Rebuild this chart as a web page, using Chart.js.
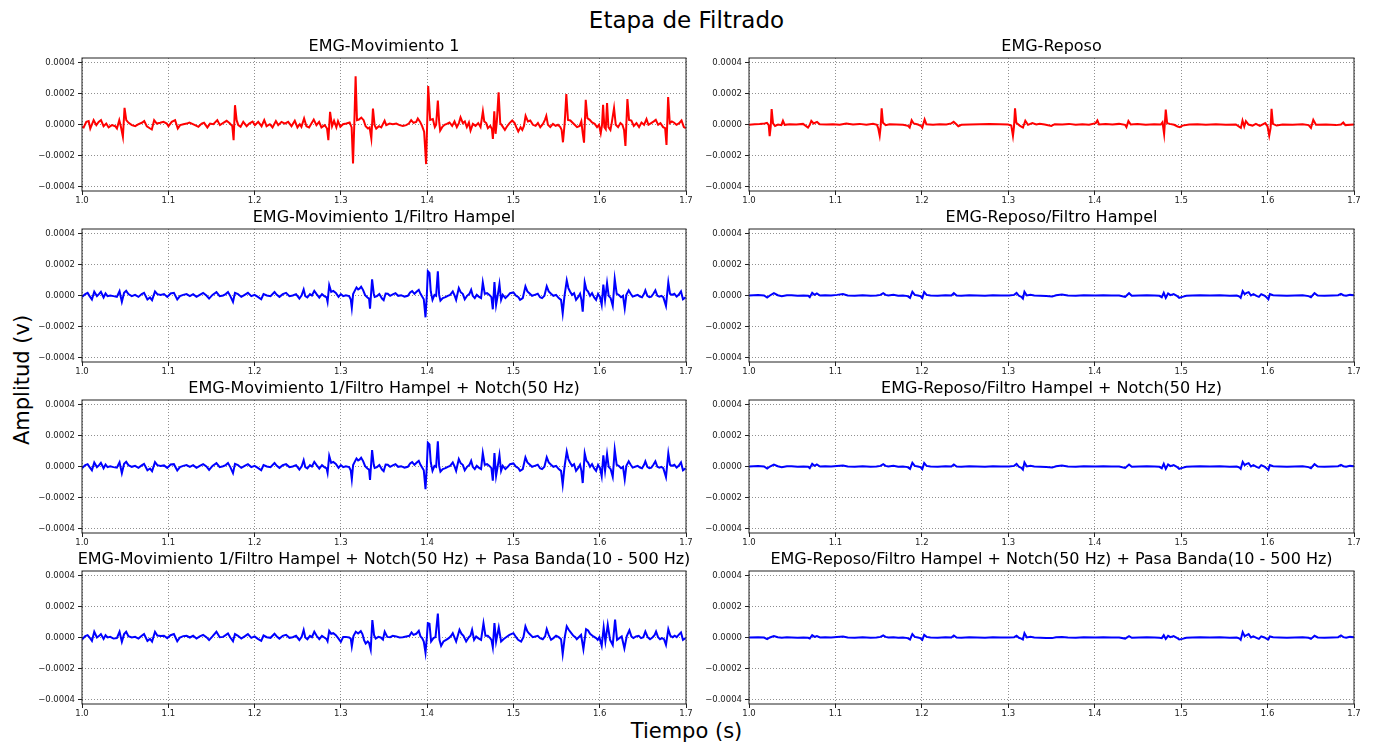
<!DOCTYPE html>
<html>
<head>
<meta charset="utf-8">
<title>Etapa de Filtrado</title>
<script src="https://cdn.jsdelivr.net/npm/chart.js@4"></script>
<style>
  html, body { margin: 0; padding: 0; background: #fff; }
  body { width: 1373px; height: 745px; position: relative; overflow: hidden; font-family: "DejaVu Sans", sans-serif; color: #000; }
  canvas { position: absolute; }
  .lbl { position: absolute; white-space: nowrap; line-height: 1; }
</style>
</head>
<body>
<div class="lbl" style="left:0;width:1373px;top:9px;text-align:center;font-size:23px;">Etapa de Filtrado</div>
<div class="lbl" style="left:0;width:1373px;top:721px;text-align:center;font-size:21px;">Tiempo (s)</div>
<div class="lbl" style="left:22px;top:380px;font-size:21px;transform:translate(-50%,-50%) rotate(-90deg);">Amplitud (v)</div>

<canvas id="c0"></canvas><canvas id="c1"></canvas>
<canvas id="c2"></canvas><canvas id="c3"></canvas>
<canvas id="c4"></canvas><canvas id="c5"></canvas>
<canvas id="c6"></canvas><canvas id="c7"></canvas>

<script>
// axis ticks
const TIME_TICKS = [1.0, 1.1, 1.2, 1.3, 1.4, 1.5, 1.6, 1.7];
const AMP_TICKS = [-0.0004, -0.0002, 0, 0.0002, 0.0004];

// signals: [tiempo (s), amplitud in units of 1e-5 V]
const movRaw = [
  [1.0000,-1.5],[1.0019,-1.9],[1.0050,1.7],[1.0077,2.2],[1.0096,-2.6],[1.0135,2.8],[1.0166,-0.4],[1.0193,1.7],
  [1.0220,2.8],[1.0250,-1.1],[1.0281,0.6],[1.0308,-1.9],[1.0347,-0.4],[1.0385,-1.1],[1.0405,-2.6],[1.0432,2.8],
  [1.0451,-1.5],[1.0474,-8],[1.0493,10.8],[1.0513,2.8],[1.0540,1.1],[1.0578,-0.4],[1.0617,-1.1],[1.0655,0.2],
  [1.0694,1.1],[1.0721,2.2],[1.0751,-1.1],[1.0790,-2.6],[1.0809,-3.2],[1.0836,2.8],[1.0867,0.6],[1.0906,1.1],
  [1.0944,1.7],[1.0983,0.6],[1.1002,-1.1],[1.1040,1.7],[1.1079,2.8],[1.1110,-2.6],[1.1137,-0.4],[1.1175,0.2],
  [1.1214,0.6],[1.1245,1.3],[1.1272,0.6],[1.1310,-0.4],[1.1349,-1.5],[1.1387,0.6],[1.1414,1.1],[1.1453,-1.9],
  [1.1484,0.6],[1.1522,0.2],[1.1568,2.8],[1.1599,-0.4],[1.1638,1.1],[1.1676,2.4],[1.1715,0.6],[1.1742,-1.1],
  [1.1757,-10.1],[1.1773,12.5],[1.1792,2.8],[1.1811,-0.4],[1.1838,-1.5],[1.1869,1.7],[1.1908,-1.1],[1.1938,0.6],
  [1.1977,1.9],[1.2004,-0.4],[1.2042,1.7],[1.2081,-1.1],[1.2112,2.8],[1.2139,-1.1],[1.2177,0.2],[1.2208,-1.9],
  [1.2247,2.2],[1.2274,-0.4],[1.2312,1.7],[1.2351,0.6],[1.2389,1.7],[1.2428,-1.1],[1.2466,2.4],[1.2497,-1.9],
  [1.2524,0.2],[1.2543,-1.5],[1.2574,3.9],[1.2601,-1.1],[1.2632,-1.9],[1.2659,0.6],[1.2686,3.2],[1.2717,-0.4],
  [1.2748,1.7],[1.2775,-1.9],[1.2813,-0.4],[1.2840,-2.6],[1.2855,-10.1],[1.2875,8.2],[1.2898,-1.1],[1.2921,2.4],
  [1.2948,-1.9],[1.2967,2.2],[1.2994,-1.5],[1.3025,0.2],[1.3064,0.6],[1.3102,1.3],[1.3125,-1.9],[1.3141,-25.2],
  [1.3156,0.6],[1.3171,31.2],[1.3187,2.8],[1.3210,3.2],[1.3237,4.5],[1.3264,2.8],[1.3287,-1.1],[1.3314,-2.6],
  [1.3333,-1.9],[1.3353,-9],[1.3372,10.3],[1.3391,-0.4],[1.3410,-2.6],[1.3441,-1.1],[1.3468,-1.9],[1.3507,2.4],
  [1.3526,-0.4],[1.3565,0.6],[1.3603,0.2],[1.3642,0.6],[1.3680,-0.4],[1.3719,-0.9],[1.3757,-0.4],[1.3788,0.6],
  [1.3815,2.8],[1.3842,1.1],[1.3873,1.7],[1.3892,3.9],[1.3919,1.7],[1.3942,-1.1],[1.3965,-4.7],[1.3988,-25.6],
  [1.4012,24.9],[1.4035,3],[1.4066,3.5],[1.4089,-1.7],[1.4104,-0.2],[1.4124,15.4],[1.4139,2],[1.4151,-3.9],
  [1.4174,-1.7],[1.4201,-0.2],[1.4228,0.4],[1.4259,1.3],[1.4290,-0.9],[1.4317,2],[1.4344,-1.7],[1.4368,0.9],
  [1.4387,4.6],[1.4414,0.9],[1.4437,2],[1.4460,-1.7],[1.4484,1.3],[1.4503,-3.9],[1.4530,0.4],[1.4561,-0.9],
  [1.4592,0.9],[1.4619,-1.7],[1.4646,8.5],[1.4662,2],[1.4685,0.9],[1.4704,-2.4],[1.4731,-0.9],[1.4751,-3],
  [1.4762,-9.3],[1.4778,8.5],[1.4793,-6],[1.4808,2],[1.4828,20.8],[1.4847,0.9],[1.4870,-0.9],[1.4901,-3.5],
  [1.4925,-1.3],[1.4955,0.9],[1.4986,2.6],[1.5014,0.9],[1.5033,-1.7],[1.5056,-4.5],[1.5083,-1.7],[1.5103,-3.5],
  [1.5122,-0.9],[1.5141,5.6],[1.5168,2],[1.5195,2.6],[1.5226,-0.2],[1.5257,-0.9],[1.5284,0.9],[1.5311,-1.7],
  [1.5342,0.4],[1.5365,3],[1.5381,5.6],[1.5400,-0.2],[1.5427,-1.7],[1.5458,0.4],[1.5489,-0.9],[1.5516,-0.2],
  [1.5543,-1.7],[1.5559,-3.5],[1.5574,-11.5],[1.5594,0.9],[1.5613,19.7],[1.5632,3],[1.5660,2.6],[1.5683,1.3],
  [1.5710,-0.2],[1.5737,-1.7],[1.5768,-0.9],[1.5787,2],[1.5803,-5.6],[1.5818,-11.7],[1.5838,16],[1.5857,4.1],
  [1.5884,3],[1.5911,1.3],[1.5942,0.4],[1.5969,-1.7],[1.5992,-0.2],[1.6012,-5.6],[1.6027,-0.2],[1.6039,12.8],
  [1.6054,-1.7],[1.6070,-3],[1.6085,13.8],[1.6101,-1.7],[1.6124,-3.5],[1.6139,0.9],[1.6166,10.6],[1.6186,-0.2],
  [1.6213,-1.7],[1.6240,0.9],[1.6263,-0.2],[1.6282,-3.5],[1.6298,-13.8],[1.6321,16.4],[1.6340,3],[1.6367,2.6],
  [1.6395,-0.9],[1.6426,0.9],[1.6456,-1.7],[1.6484,1.3],[1.6514,-0.2],[1.6542,3.5],[1.6565,-0.2],[1.6596,0.9],
  [1.6627,2],[1.6650,3],[1.6677,-0.2],[1.6704,0.9],[1.6735,-1.7],[1.6758,-2.4],[1.6774,-13.2],[1.6793,17.7],
  [1.6812,0.9],[1.6836,2],[1.6859,1.3],[1.6890,-0.2],[1.6921,0.9],[1.6948,2.6],[1.6975,-1.7],[1.6998,-2.4]
];

const movHampel = [
  [1.0000,-0.9],[1.0038,0.9],[1.0065,1.7],[1.0088,-0.4],[1.0115,-2.6],[1.0142,2.4],[1.0173,-0.4],[1.0196,0.9],
  [1.0219,2.4],[1.0250,-1.3],[1.0273,1.3],[1.0296,-0.4],[1.0327,0],[1.0365,-0.4],[1.0404,-0.9],[1.0435,2.8],
  [1.0462,-4.1],[1.0488,1.7],[1.0512,3],[1.0538,0.9],[1.0577,-0.4],[1.0615,0.4],[1.0654,-0.9],[1.0692,0.9],
  [1.0719,1.7],[1.0758,-2.6],[1.0788,-1.3],[1.0812,-3],[1.0846,2.6],[1.0873,0.9],[1.0912,0.4],[1.0950,0.9],
  [1.0988,-0.9],[1.1027,1.3],[1.1065,1.7],[1.1104,-2.6],[1.1135,-0.4],[1.1173,0.4],[1.1212,0.9],[1.1250,-0.4],
  [1.1288,0.9],[1.1327,-0.9],[1.1365,0.4],[1.1404,1.7],[1.1442,0],[1.1473,-2],[1.1512,0.4],[1.1558,2.2],
  [1.1596,-0.4],[1.1635,0],[1.1665,0.9],[1.1692,2.2],[1.1719,-0.4],[1.1750,-4.1],[1.1773,1.7],[1.1808,0.9],
  [1.1846,-0.9],[1.1885,0.4],[1.1923,1.7],[1.1962,-0.4],[1.2000,0.4],[1.2038,-0.9],[1.2077,-2.4],[1.2104,0.9],
  [1.2142,0],[1.2185,-0.4],[1.2231,2.2],[1.2258,0.4],[1.2288,-0.9],[1.2327,0.9],[1.2365,1.7],[1.2404,-0.4],
  [1.2442,0],[1.2481,0.9],[1.2519,-2],[1.2546,0.2],[1.2569,3.9],[1.2588,-0.4],[1.2612,-1.3],[1.2642,0.9],
  [1.2665,0],[1.2692,3],[1.2719,0.9],[1.2750,-1.3],[1.2781,0.9],[1.2808,-0.4],[1.2835,-1.3],[1.2846,-4.1],
  [1.2865,6.7],[1.2888,2.4],[1.2912,3],[1.2942,1.7],[1.2973,-0.9],[1.3000,0.9],[1.3027,-0.4],[1.3058,0.2],
  [1.3096,-0.4],[1.3115,-2.6],[1.3127,-8],[1.3142,0.9],[1.3165,3.5],[1.3181,5.2],[1.3200,3.9],[1.3219,4.6],
  [1.3235,5.7],[1.3258,3.5],[1.3281,0.2],[1.3308,-1.3],[1.3327,-2],[1.3338,-8.5],[1.3362,10.4],[1.3381,1.3],
  [1.3392,-0.9],[1.3419,-0.4],[1.3446,0.9],[1.3477,-2],[1.3496,-3],[1.3519,1.3],[1.3544,1.1],[1.3571,-0.2],
  [1.3602,0.7],[1.3633,1.5],[1.3664,-0.2],[1.3699,0.2],[1.3737,-0.7],[1.3776,-0.2],[1.3803,2],[1.3826,2.8],
  [1.3853,1.1],[1.3880,2.6],[1.3903,3.7],[1.3923,1.1],[1.3942,-0.7],[1.3961,-2.4],[1.3981,-14.1],[1.3996,-0.2],
  [1.4008,15.7],[1.4027,14.6],[1.4042,2.6],[1.4062,-2.8],[1.4085,0.4],[1.4104,-0.2],[1.4124,15.7],[1.4139,0.4],
  [1.4154,-3.3],[1.4181,-1.7],[1.4212,-1.1],[1.4239,-0.2],[1.4266,0.4],[1.4297,2.6],[1.4320,-0.2],[1.4336,-2.8],
  [1.4367,4.8],[1.4390,2],[1.4413,1.1],[1.4436,-2.4],[1.4463,-0.2],[1.4490,1.1],[1.4510,3.7],[1.4529,-0.2],
  [1.4552,-1.7],[1.4575,0.4],[1.4598,-0.7],[1.4625,-1.7],[1.4645,8.5],[1.4668,1.1],[1.4695,1.5],[1.4722,0.4],
  [1.4745,-1.1],[1.4761,-8.9],[1.4780,8.7],[1.4799,-6.1],[1.4819,0.4],[1.4838,7.4],[1.4857,-2.8],[1.4876,0.4],
  [1.4907,-1.7],[1.4934,-0.2],[1.4961,1.5],[1.5000,2],[1.5031,-0.2],[1.5058,-1.1],[1.5077,-2.8],[1.5108,-1.7],
  [1.5139,5.9],[1.5162,2.6],[1.5185,1.5],[1.5216,-0.2],[1.5247,0.4],[1.5282,1.1],[1.5309,-1.1],[1.5332,-1.7],
  [1.5359,-0.2],[1.5386,5.9],[1.5409,2.6],[1.5436,1.1],[1.5463,-0.2],[1.5494,0.4],[1.5525,-1.7],[1.5552,-2.8],
  [1.5571,-11.5],[1.5591,-0.7],[1.5618,9.8],[1.5637,4.8],[1.5656,2.6],[1.5680,0.4],[1.5703,1.5],[1.5726,-2.8],
  [1.5749,-1.1],[1.5772,1.1],[1.5788,-2.8],[1.5803,-10.4],[1.5826,8.5],[1.5846,3.7],[1.5865,2.6],[1.5888,-0.2],
  [1.5911,1.5],[1.5934,-1.1],[1.5958,-2.8],[1.5981,1.1],[1.6004,-1.1],[1.6023,-6.1],[1.6042,7],[1.6062,-2.8],
  [1.6085,8],[1.6104,-0.2],[1.6127,-1.7],[1.6151,-6.7],[1.6174,10.7],[1.6197,1.1],[1.6220,0.4],[1.6247,-1.1],
  [1.6270,-0.2],[1.6290,-8.3],[1.6309,0.4],[1.6336,3.3],[1.6359,1.1],[1.6382,-0.7],[1.6409,-0.2],[1.6440,0.4],
  [1.6467,-0.7],[1.6490,-1.1],[1.6514,1.1],[1.6529,3.3],[1.6552,-0.2],[1.6575,-1.1],[1.6598,-0.7],[1.6622,1.1],
  [1.6645,3.3],[1.6668,-0.2],[1.6691,-0.7],[1.6714,-0.2],[1.6737,-1.1],[1.6768,-6.7],[1.6795,8.5],[1.6815,1.1],
  [1.6838,0.4],[1.6865,1.1],[1.6892,-0.7],[1.6915,0.4],[1.6942,2.6],[1.6965,-2.4],[1.6996,-1.1]
];

const movNotch = [
  [1.0000,-1.1],[1.0038,0.9],[1.0065,1.5],[1.0088,-0.4],[1.0115,-2.4],[1.0142,2.6],[1.0173,-0.4],[1.0196,0.7],
  [1.0219,2.4],[1.0250,-1.1],[1.0273,1.3],[1.0296,-0.4],[1.0327,0.2],[1.0365,-0.4],[1.0404,-0.7],[1.0435,2.8],
  [1.0462,-4.3],[1.0488,1.7],[1.0512,3],[1.0538,0.9],[1.0577,-0.2],[1.0615,0.4],[1.0654,-0.9],[1.0692,0.7],
  [1.0719,1.7],[1.0758,-2.4],[1.0788,-1.3],[1.0812,-3],[1.0846,2.8],[1.0873,0.9],[1.0912,0.4],[1.0950,0.7],
  [1.0988,-0.9],[1.1027,1.3],[1.1065,1.5],[1.1104,-2.6],[1.1135,-0.4],[1.1173,0.4],[1.1212,0.9],[1.1250,-0.2],
  [1.1288,0.9],[1.1327,-0.9],[1.1365,0.4],[1.1404,1.5],[1.1442,0],[1.1473,-2.2],[1.1512,0.4],[1.1558,2.2],
  [1.1596,-0.4],[1.1635,0.2],[1.1665,0.9],[1.1692,2.2],[1.1719,-0.4],[1.1750,-4.3],[1.1773,1.7],[1.1808,0.9],
  [1.1846,-0.9],[1.1885,0.4],[1.1923,1.5],[1.1962,-0.4],[1.2000,0.4],[1.2038,-0.9],[1.2077,-2.4],[1.2104,0.9],
  [1.2142,0],[1.2185,-0.4],[1.2231,2.2],[1.2258,0.4],[1.2288,-0.9],[1.2327,0.9],[1.2365,1.5],[1.2404,-0.4],
  [1.2442,0],[1.2481,0.9],[1.2519,-2],[1.2546,0.2],[1.2569,4.1],[1.2588,-0.4],[1.2612,-1.3],[1.2642,0.9],
  [1.2665,0],[1.2692,3],[1.2719,0.9],[1.2750,-1.3],[1.2781,0.9],[1.2808,-0.4],[1.2835,-1.3],[1.2846,-4.1],
  [1.2865,6.9],[1.2888,2.4],[1.2912,3],[1.2942,1.7],[1.2973,-0.9],[1.3000,0.9],[1.3027,-0.4],[1.3058,0.2],
  [1.3096,-0.4],[1.3115,-2.6],[1.3127,-8.2],[1.3142,0.9],[1.3165,3.5],[1.3181,5.2],[1.3200,3.9],[1.3219,4.6],
  [1.3235,5.7],[1.3258,3.5],[1.3281,0.2],[1.3308,-1.3],[1.3327,-2],[1.3338,-8.7],[1.3362,10.6],[1.3381,1.3],
  [1.3392,-0.9],[1.3419,-0.4],[1.3446,0.9],[1.3477,-2],[1.3496,-3],[1.3519,1.3],[1.3544,1.1],[1.3571,-0.2],
  [1.3602,0.7],[1.3633,1.5],[1.3664,-0.2],[1.3699,0.2],[1.3737,-0.7],[1.3776,-0.2],[1.3803,2],[1.3826,2.8],
  [1.3853,1.1],[1.3880,2.6],[1.3903,3.7],[1.3923,1.1],[1.3942,-0.7],[1.3961,-2.4],[1.3981,-14.6],[1.3996,-0.2],
  [1.4008,15.4],[1.4027,14.3],[1.4042,2.6],[1.4062,-2.8],[1.4085,0.4],[1.4104,-0.2],[1.4124,16.3],[1.4139,0.4],
  [1.4154,-3.3],[1.4181,-1.7],[1.4212,-1.1],[1.4239,-0.2],[1.4266,0.4],[1.4297,2.6],[1.4320,-0.2],[1.4336,-2.8],
  [1.4367,4.8],[1.4390,2],[1.4413,1.1],[1.4436,-2.4],[1.4463,-0.2],[1.4490,1.1],[1.4510,3.7],[1.4529,-0.2],
  [1.4552,-1.7],[1.4575,0.4],[1.4598,-0.7],[1.4625,-1.7],[1.4645,8.7],[1.4668,1.1],[1.4695,1.5],[1.4722,0.4],
  [1.4745,-1.1],[1.4761,-9.1],[1.4780,8.7],[1.4799,-6.1],[1.4819,0.4],[1.4838,7.4],[1.4857,-2.8],[1.4876,0.4],
  [1.4907,-1.7],[1.4934,-0.2],[1.4961,1.5],[1.5000,2],[1.5031,-0.2],[1.5058,-1.1],[1.5077,-2.8],[1.5108,-1.7],
  [1.5139,5.9],[1.5162,2.6],[1.5185,1.5],[1.5216,-0.2],[1.5247,0.4],[1.5282,1.1],[1.5309,-1.1],[1.5332,-1.7],
  [1.5359,-0.2],[1.5386,5.9],[1.5409,2.6],[1.5436,1.1],[1.5463,-0.2],[1.5494,0.4],[1.5525,-1.7],[1.5552,-2.8],
  [1.5571,-11.7],[1.5591,-0.7],[1.5618,9.6],[1.5637,4.8],[1.5656,2.6],[1.5680,0.4],[1.5703,1.5],[1.5726,-2.8],
  [1.5749,-1.1],[1.5772,1.1],[1.5788,-2.8],[1.5803,-10.7],[1.5826,8.5],[1.5846,3.7],[1.5865,2.6],[1.5888,-0.2],
  [1.5911,1.5],[1.5934,-1.1],[1.5958,-2.8],[1.5981,1.1],[1.6004,-1.1],[1.6023,-6.3],[1.6042,7.2],[1.6062,-2.8],
  [1.6085,8],[1.6104,-0.2],[1.6127,-1.7],[1.6151,-6.7],[1.6174,10.9],[1.6197,1.1],[1.6220,0.4],[1.6247,-1.1],
  [1.6270,-0.2],[1.6290,-8.3],[1.6309,0.4],[1.6336,3.3],[1.6359,1.1],[1.6382,-0.7],[1.6409,-0.2],[1.6440,0.4],
  [1.6467,-0.7],[1.6490,-1.1],[1.6514,1.1],[1.6529,3.3],[1.6552,-0.2],[1.6575,-1.1],[1.6598,-0.7],[1.6622,1.1],
  [1.6645,3.3],[1.6668,-0.2],[1.6691,-0.7],[1.6714,-0.2],[1.6737,-1.1],[1.6768,-6.9],[1.6795,8.5],[1.6815,1.1],
  [1.6838,0.4],[1.6865,1.1],[1.6892,-0.7],[1.6915,0.4],[1.6942,2.6],[1.6965,-2.4],[1.6996,-1.1]
];

const movBand = [
  [1.0000,-1.3],[1.0038,0.9],[1.0065,1.5],[1.0088,0],[1.0115,-2.2],[1.0142,3.7],[1.0173,0],[1.0196,0.9],
  [1.0219,2.2],[1.0250,-0.9],[1.0273,1.5],[1.0296,0],[1.0327,0.4],[1.0365,-0.7],[1.0404,-0.4],[1.0435,3.7],
  [1.0462,-2.8],[1.0488,2.2],[1.0512,3.7],[1.0538,0.9],[1.0577,0],[1.0615,0.4],[1.0654,-0.7],[1.0692,1.1],
  [1.0719,2.2],[1.0758,-2.2],[1.0788,-0.9],[1.0812,-2.6],[1.0846,3.7],[1.0873,1.3],[1.0912,0.9],[1.0950,1.1],
  [1.0988,-0.4],[1.1027,1.5],[1.1065,2.2],[1.1104,-2.4],[1.1135,0],[1.1173,0.9],[1.1212,1.1],[1.1250,0],
  [1.1288,1.1],[1.1327,-0.7],[1.1365,0.7],[1.1404,1.7],[1.1442,0.2],[1.1473,-1.7],[1.1512,0.7],[1.1558,3.7],
  [1.1596,0.2],[1.1635,0.4],[1.1665,1.5],[1.1692,2.6],[1.1719,0],[1.1750,-2.4],[1.1773,2.2],[1.1808,1.1],
  [1.1846,-0.7],[1.1885,0.7],[1.1923,2.2],[1.1962,-0.2],[1.2000,0.7],[1.2038,-0.9],[1.2077,-2.2],[1.2104,1.3],
  [1.2142,0.2],[1.2185,-0.2],[1.2231,2.4],[1.2258,0.7],[1.2288,-0.7],[1.2327,1.1],[1.2365,1.7],[1.2404,-0.2],
  [1.2442,0.2],[1.2481,1.1],[1.2519,-1.7],[1.2546,0.4],[1.2569,4.8],[1.2588,0],[1.2612,-1.1],[1.2642,1.1],
  [1.2665,0.2],[1.2692,3.7],[1.2719,1.1],[1.2750,-1.1],[1.2781,1.1],[1.2808,0],[1.2835,-1.1],[1.2846,-2.4],
  [1.2865,4.3],[1.2888,2.4],[1.2912,2.8],[1.2942,1.5],[1.2973,-0.7],[1.3000,-2.8],[1.3027,0.4],[1.3058,0.4],
  [1.3096,0],[1.3115,-0.7],[1.3127,-5.7],[1.3146,0.9],[1.3173,3.7],[1.3200,2.6],[1.3231,4.1],[1.3250,2.2],
  [1.3269,-1.7],[1.3288,-3.9],[1.3312,-2.6],[1.3327,-3.5],[1.3346,-7.8],[1.3365,11.3],[1.3385,1.5],[1.3404,-0.7],
  [1.3435,0.4],[1.3462,0],[1.3488,-1.3],[1.3508,3.7],[1.3538,0.4],[1.3571,0.2],[1.3602,1.1],[1.3641,0.7],
  [1.3680,0],[1.3718,0.2],[1.3757,0.7],[1.3795,1.1],[1.3819,3.3],[1.3842,1.7],[1.3873,2.4],[1.3903,4.3],
  [1.3923,0.7],[1.3942,-0.4],[1.3961,-2.6],[1.3981,-9.8],[1.3996,-0.4],[1.4008,9.3],[1.4027,8.9],[1.4046,-2.6],
  [1.4073,-0.4],[1.4097,0.2],[1.4124,15.4],[1.4143,-1.5],[1.4162,-5.4],[1.4189,-2.6],[1.4220,-1.5],[1.4251,-0.4],
  [1.4278,1.1],[1.4297,2.8],[1.4320,-0.4],[1.4336,-2.6],[1.4375,5],[1.4398,2.4],[1.4421,1.1],[1.4452,-2.6],
  [1.4483,0.2],[1.4502,1.1],[1.4521,5],[1.4544,-1.5],[1.4568,0.7],[1.4591,-0.4],[1.4625,-1.5],[1.4653,9.3],
  [1.4676,1.1],[1.4703,1.1],[1.4730,-0.4],[1.4745,-1.5],[1.4761,-6.3],[1.4780,9.3],[1.4799,-2.6],[1.4830,6.5],
  [1.4857,-2.6],[1.4884,-1.1],[1.4915,0.2],[1.4954,1.7],[1.5000,2.8],[1.5031,0.2],[1.5054,-1.5],[1.5089,-2.6],
  [1.5116,0.2],[1.5139,7.2],[1.5162,3.9],[1.5185,2.4],[1.5224,0.2],[1.5255,0.7],[1.5282,1.1],[1.5309,-0.4],
  [1.5340,-1.1],[1.5367,0.7],[1.5386,5.4],[1.5409,1.7],[1.5436,-1.5],[1.5463,-0.4],[1.5494,1.1],[1.5525,0.2],
  [1.5552,-1.1],[1.5571,-10.7],[1.5595,0.2],[1.5618,7.2],[1.5641,5],[1.5664,3.3],[1.5695,1.1],[1.5718,0.2],
  [1.5734,-1.1],[1.5757,0.2],[1.5784,1.7],[1.5811,-7.6],[1.5842,5.4],[1.5865,4.6],[1.5888,2.4],[1.5927,0.7],
  [1.5958,-0.4],[1.5977,-1.5],[1.5996,0.2],[1.6023,-5.4],[1.6046,6.5],[1.6066,-2.6],[1.6093,8.3],[1.6120,-1.5],
  [1.6151,-4.8],[1.6178,11.5],[1.6201,-1.5],[1.6228,-0.4],[1.6255,0.7],[1.6286,-7],[1.6313,0.7],[1.6344,4.6],
  [1.6367,0.7],[1.6390,-0.4],[1.6421,0.7],[1.6452,1.1],[1.6479,-0.4],[1.6506,0.2],[1.6529,3.9],[1.6556,0.2],
  [1.6583,-1.1],[1.6614,0.2],[1.6637,1.7],[1.6653,3.9],[1.6676,0.2],[1.6699,-1.1],[1.6722,-0.4],[1.6745,-1.1],
  [1.6768,-4.8],[1.6795,5.4],[1.6819,1.1],[1.6846,0.2],[1.6869,1.1],[1.6892,0.2],[1.6915,1.7],[1.6942,3.3],
  [1.6965,-1.5],[1.6996,-0.4]
];

const repRaw = [
  [1.0000,-0.2],[1.0066,0.2],[1.0123,0.4],[1.0181,0.7],[1.0208,1.1],[1.0228,-0.4],[1.0239,-7.6],[1.0251,-1.5],
  [1.0262,10],[1.0278,0.7],[1.0301,-0.9],[1.0336,0],[1.0374,-0.4],[1.0393,2.4],[1.0413,-0.2],[1.0470,0.2],
  [1.0548,0],[1.0625,0.4],[1.0683,-2],[1.0702,-0.4],[1.0721,2.4],[1.0748,0.7],[1.0787,1.7],[1.0818,0.2],
  [1.0895,0],[1.0972,0.2],[1.1049,-0.2],[1.1126,0.7],[1.1203,0],[1.1280,0.4],[1.1358,-0.2],[1.1435,0.4],
  [1.1481,-0.2],[1.1496,-2.6],[1.1512,-7.2],[1.1523,-1.5],[1.1535,10.4],[1.1550,1.1],[1.1581,-0.4],[1.1627,0.2],
  [1.1705,0],[1.1782,-0.2],[1.1840,-0.9],[1.1859,-2],[1.1882,2.8],[1.1905,0.7],[1.1955,0],[1.1994,-1.1],
  [1.2005,-2],[1.2032,3.3],[1.2052,0.2],[1.2129,-0.2],[1.2206,0.2],[1.2283,0],[1.2341,0.7],[1.2368,1.7],
  [1.2399,0.2],[1.2422,-1.1],[1.2457,-0.2],[1.2553,0],[1.2669,0.2],[1.2784,0.4],[1.2900,0.2],[1.2997,0],
  [1.3035,-0.7],[1.3054,-7.4],[1.3066,-1.5],[1.3078,10.4],[1.3093,1.1],[1.3132,-0.7],[1.3170,-2],[1.3197,2.4],
  [1.3228,-0.2],[1.3278,0.9],[1.3324,0],[1.3363,0.4],[1.3421,0],[1.3498,-0.9],[1.3537,0.2],[1.3625,0],
  [1.3703,0.4],[1.3780,-0.2],[1.3857,0.2],[1.3934,-0.2],[1.4012,0.9],[1.4031,2.6],[1.4050,0],[1.4127,0.4],
  [1.4205,0],[1.4282,0.4],[1.4351,-0.2],[1.4367,-1.7],[1.4390,2.2],[1.4417,0],[1.4494,0.4],[1.4591,-0.2],
  [1.4687,0.2],[1.4764,0],[1.4784,1.5],[1.4803,-6.1],[1.4822,9.6],[1.4838,0.9],[1.4869,0.4],[1.4919,-0.2],
  [1.4958,-1.3],[1.4985,-1.7],[1.5015,-0.7],[1.5093,0],[1.5189,0.2],[1.5286,-0.2],[1.5402,0.2],[1.5517,-0.2],
  [1.5633,0],[1.5691,-2.2],[1.5710,2.6],[1.5730,-1.3],[1.5749,2.2],[1.5780,0],[1.5826,-0.7],[1.5865,0.4],
  [1.5911,-0.9],[1.5973,0.9],[1.6000,-1.3],[1.6019,-7.2],[1.6035,-2.2],[1.6046,10.2],[1.6062,0.4],[1.6104,-0.7],
  [1.6174,0],[1.6290,-0.2],[1.6405,0.2],[1.6475,-0.4],[1.6502,-2.2],[1.6529,3],[1.6560,-0.2],[1.6676,0],
  [1.6792,-0.4],[1.6849,0],[1.6876,1.3],[1.6900,-0.4],[1.7000,0]
];

const repHampel = [
  [1.0000,0],[1.0105,0.4],[1.0174,0],[1.0210,-1.3],[1.0242,0],[1.0288,1.5],[1.0333,0.2],[1.0379,-0.4],
  [1.0438,0.2],[1.0493,0.2],[1.0562,-0.2],[1.0630,0],[1.0685,-0.2],[1.0703,-1.1],[1.0731,1.7],[1.0758,0.4],
  [1.0785,1.3],[1.0822,0],[1.0881,0.2],[1.0950,0],[1.1018,0.4],[1.1087,0.9],[1.1142,0],[1.1224,-0.2],
  [1.1315,0.2],[1.1406,-0.2],[1.1475,0],[1.1521,0.4],[1.1553,1.5],[1.1580,0.4],[1.1612,0],[1.1671,0.4],
  [1.1726,-0.2],[1.1781,0],[1.1836,-0.4],[1.1863,-1.5],[1.1890,2.4],[1.1918,0.4],[1.1954,0],[1.1982,-0.4],
  [1.2005,-1.7],[1.2027,2.2],[1.2055,0.4],[1.2100,0],[1.2183,-0.2],[1.2274,0.2],[1.2342,0],[1.2370,1.5],
  [1.2402,0],[1.2457,-0.2],[1.2548,0.2],[1.2639,0],[1.2731,-0.2],[1.2822,0.2],[1.2913,0],[1.3009,0],
  [1.3068,0.4],[1.3096,1.7],[1.3123,-0.2],[1.3151,-0.9],[1.3169,-2],[1.3187,2.4],[1.3215,0],[1.3256,0.4],
  [1.3301,0],[1.3370,-0.2],[1.3438,-0.4],[1.3507,-0.7],[1.3553,0.2],[1.3621,0.7],[1.3689,0],[1.3781,-0.2],
  [1.3872,0.2],[1.4009,0],[1.4100,0.2],[1.4192,0],[1.4283,0],[1.4352,-0.9],[1.4397,1.5],[1.4429,-0.2],
  [1.4511,0],[1.4603,0.2],[1.4694,0],[1.4749,-0.2],[1.4776,-1.1],[1.4799,1.7],[1.4822,-1.5],[1.4849,1.3],
  [1.4877,0.2],[1.4913,0.9],[1.4950,-0.2],[1.4977,-1.5],[1.5014,-0.9],[1.5059,-0.2],[1.5128,0],[1.5219,0.2],
  [1.5333,0],[1.5447,0.2],[1.5562,-0.2],[1.5644,0],[1.5676,-0.7],[1.5689,-1.5],[1.5712,2.8],[1.5735,0.9],
  [1.5758,1.7],[1.5781,2.2],[1.5808,0],[1.5836,0.9],[1.5872,-0.2],[1.5900,-0.9],[1.5927,0.9],[1.5963,0],
  [1.5991,-1.3],[1.6009,-2.4],[1.6027,0.9],[1.6064,0.2],[1.6132,0],[1.6224,-0.2],[1.6315,0],[1.6406,0.2],
  [1.6475,-0.4],[1.6502,-1.1],[1.6543,1.5],[1.6580,0],[1.6658,-0.2],[1.6749,0],[1.6817,0.2],[1.6849,1.1],
  [1.6877,0.2],[1.6909,-0.2],[1.6954,0.4],[1.7000,0.2]
];

const repNotch = [
  [1.0000,0],[1.0105,0.4],[1.0174,0],[1.0210,-1.3],[1.0242,0],[1.0288,1.3],[1.0333,0.2],[1.0379,-0.4],
  [1.0438,0.2],[1.0493,0.2],[1.0562,-0.2],[1.0630,0],[1.0685,-0.2],[1.0703,-1.1],[1.0731,1.7],[1.0758,0.4],
  [1.0785,1.3],[1.0822,0],[1.0881,0.2],[1.0950,0],[1.1018,0.4],[1.1087,0.7],[1.1142,0],[1.1224,-0.2],
  [1.1315,0.2],[1.1406,-0.2],[1.1475,0],[1.1521,0.4],[1.1553,1.5],[1.1580,0.4],[1.1612,0],[1.1671,0.4],
  [1.1726,-0.2],[1.1781,0],[1.1836,-0.4],[1.1863,-1.5],[1.1890,2.4],[1.1918,0.4],[1.1954,0],[1.1982,-0.4],
  [1.2005,-1.7],[1.2027,2.2],[1.2055,0.4],[1.2100,0],[1.2183,-0.2],[1.2274,0.2],[1.2342,0],[1.2370,1.3],
  [1.2402,0],[1.2457,-0.2],[1.2548,0.2],[1.2639,0],[1.2731,-0.2],[1.2822,0.2],[1.2913,0],[1.3009,0],
  [1.3068,0.4],[1.3096,1.7],[1.3123,-0.2],[1.3151,-0.9],[1.3169,-2],[1.3187,2.6],[1.3215,0],[1.3256,0.4],
  [1.3301,0],[1.3370,-0.2],[1.3438,-0.4],[1.3507,-0.7],[1.3553,0.2],[1.3621,0.7],[1.3689,0],[1.3781,-0.2],
  [1.3872,0.2],[1.4009,0],[1.4100,0.2],[1.4192,0],[1.4283,0],[1.4352,-0.9],[1.4397,1.3],[1.4429,-0.2],
  [1.4511,0],[1.4603,0.2],[1.4694,0],[1.4749,-0.2],[1.4776,-1.1],[1.4799,1.7],[1.4822,-1.5],[1.4849,1.3],
  [1.4877,0.2],[1.4913,0.9],[1.4950,-0.2],[1.4977,-1.5],[1.5014,-0.9],[1.5059,-0.2],[1.5128,0],[1.5219,0.2],
  [1.5333,0],[1.5447,0.2],[1.5562,-0.2],[1.5644,0],[1.5676,-0.7],[1.5689,-1.5],[1.5712,3],[1.5735,0.9],
  [1.5758,1.7],[1.5781,2.2],[1.5808,0],[1.5836,0.9],[1.5872,-0.2],[1.5900,-0.9],[1.5927,0.9],[1.5963,0],
  [1.5991,-1.3],[1.6009,-2.2],[1.6027,0.9],[1.6064,0.2],[1.6132,0],[1.6224,-0.2],[1.6315,0],[1.6406,0.2],
  [1.6475,-0.4],[1.6502,-1.1],[1.6543,1.5],[1.6580,0],[1.6658,-0.2],[1.6749,0],[1.6817,0.2],[1.6849,1.1],
  [1.6877,0.2],[1.6909,-0.2],[1.6954,0.4],[1.7000,0.2]
];

const repBand = [
  [1.0000,0],[1.0105,0.2],[1.0174,0],[1.0210,-1.1],[1.0242,0],[1.0288,0.9],[1.0333,0.2],[1.0379,-0.2],
  [1.0438,0.2],[1.0493,0],[1.0562,-0.2],[1.0630,0],[1.0685,-0.2],[1.0703,-0.7],[1.0731,1.5],[1.0758,0.4],
  [1.0785,0.9],[1.0822,0],[1.0881,0.2],[1.0950,0],[1.1018,0.4],[1.1087,0.7],[1.1142,0],[1.1224,-0.2],
  [1.1315,0.2],[1.1406,-0.2],[1.1475,0],[1.1521,0.4],[1.1553,1.3],[1.1580,0.4],[1.1612,0],[1.1671,0.2],
  [1.1726,-0.2],[1.1781,0],[1.1836,-0.4],[1.1863,-1.3],[1.1890,2.2],[1.1918,0.4],[1.1954,0],[1.1982,-0.4],
  [1.2005,-1.5],[1.2027,1.7],[1.2055,0.4],[1.2100,0],[1.2183,-0.2],[1.2274,0.2],[1.2342,0],[1.2370,1.3],
  [1.2402,0],[1.2457,-0.2],[1.2548,0.2],[1.2639,0],[1.2731,-0.2],[1.2822,0.2],[1.2913,0],[1.3009,0],
  [1.3068,0.2],[1.3096,1.1],[1.3123,-0.2],[1.3151,-0.7],[1.3169,-1.3],[1.3187,2.8],[1.3215,0],[1.3256,0.4],
  [1.3301,0],[1.3370,-0.2],[1.3438,-0.4],[1.3507,-0.4],[1.3553,0.2],[1.3621,0.4],[1.3689,0],[1.3781,-0.2],
  [1.3872,0.2],[1.4009,0],[1.4100,0.2],[1.4192,0],[1.4283,0],[1.4352,-0.7],[1.4397,0.9],[1.4429,-0.2],
  [1.4511,0],[1.4603,0.2],[1.4694,0],[1.4749,-0.2],[1.4776,-0.4],[1.4799,1.5],[1.4822,-0.9],[1.4849,1.1],
  [1.4877,0.2],[1.4913,0.9],[1.4950,-0.2],[1.4977,-1.3],[1.5014,-0.9],[1.5059,-0.2],[1.5128,0],[1.5219,0.2],
  [1.5333,0],[1.5447,0.2],[1.5562,-0.2],[1.5644,0],[1.5676,-0.7],[1.5689,-1.5],[1.5712,3.5],[1.5735,0.9],
  [1.5758,1.5],[1.5781,2.2],[1.5808,0],[1.5836,0.7],[1.5872,-0.2],[1.5900,-0.9],[1.5927,0.7],[1.5963,0],
  [1.5991,-0.9],[1.6009,-1.3],[1.6027,0.7],[1.6064,0.2],[1.6132,0],[1.6224,-0.2],[1.6315,0],[1.6406,0.2],
  [1.6475,-0.2],[1.6502,-0.9],[1.6543,1.1],[1.6580,0],[1.6658,-0.2],[1.6749,0],[1.6817,0.2],[1.6849,1.3],
  [1.6877,0.2],[1.6909,-0.2],[1.6954,0.4],[1.7000,0.2]
];

const PANEL_TITLES = [
  'EMG-Movimiento 1', 'EMG-Reposo',
  'EMG-Movimiento 1/Filtro Hampel', 'EMG-Reposo/Filtro Hampel',
  'EMG-Movimiento 1/Filtro Hampel + Notch(50 Hz)', 'EMG-Reposo/Filtro Hampel + Notch(50 Hz)',
  'EMG-Movimiento 1/Filtro Hampel + Notch(50 Hz) + Pasa Banda(10 - 500 Hz)', 'EMG-Reposo/Filtro Hampel + Notch(50 Hz) + Pasa Banda(10 - 500 Hz)'
];
const PANEL_SERIES = [movRaw, repRaw, movHampel, repHampel, movNotch, repNotch, movBand, repBand];
const PANEL_COLORS = ['#ff0000', '#ff0000', '#0000ff', '#0000ff', '#0000ff', '#0000ff', '#0000ff', '#0000ff'];

const UNIT = 1e-5;
const FONT = '"DejaVu Sans", sans-serif';
const PLOT_TOPS = [58, 229, 400, 571];
const PLOT_H = 133;
const TITLE_H = 28;
const XAXIS_H = 22;
const YAXIS_W = 82;

// full box around each axes (matplotlib spines) + title centred on the axes
const framePlugin = {
  id: 'frame',
  afterDraw(chart, args, opts) {
    const a = chart.chartArea, ctx = chart.ctx;
    ctx.save();
    ctx.strokeStyle = '#222';
    ctx.lineWidth = 1;
    ctx.strokeRect(a.left, a.top, a.right - a.left, a.bottom - a.top);
    ctx.fillStyle = '#000';
    ctx.font = '16px ' + FONT;
    ctx.textAlign = 'center';
    ctx.textBaseline = 'middle';
    ctx.fillText(opts.text, (a.left + a.right) / 2, a.top - 11);
    ctx.restore();
  }
};

function ampLabel(v) {
  if (Math.abs(v) < 1e-12) return '0.0000';
  return (v < 0 ? '\u2212' : '') + Math.abs(v).toFixed(4);
}

const gridStyle = {
  color: 'rgba(0,0,0,0.55)',
  lineWidth: 0.8,
  drawTicks: true,
  tickLength: 4,
  tickColor: '#222',
  tickWidth: 1,
  tickBorderDash: []
};
const borderStyle = { display: false, dash: [1, 2] };

PANEL_SERIES.forEach((series, i) => {
  const row = Math.floor(i / 2), col = i % 2;
  const cv = document.getElementById('c' + i);
  const left = col === 0 ? 0 : 667;
  const width = col === 0 ? 700 : 706;
  const rightPad = col === 0 ? 14 : 19;
  cv.width = width;
  cv.height = TITLE_H + PLOT_H + XAXIS_H;
  cv.style.left = left + 'px';
  cv.style.top = (PLOT_TOPS[row] - TITLE_H) + 'px';

  new Chart(cv, {
    type: 'line',
    data: {
      datasets: [{
        data: series.map(p => ({ x: p[0], y: p[1] * UNIT })),
        borderColor: PANEL_COLORS[i],
        borderWidth: 2,
        pointRadius: 0,
        tension: 0,
        fill: false
      }]
    },
    options: {
      responsive: false,
      animation: false,
      events: [],
      layout: { padding: { left: 0, right: rightPad, top: TITLE_H, bottom: 0 } },
      plugins: {
        legend: { display: false },
        tooltip: { enabled: false },
        title: { display: false },
        frame: { text: PANEL_TITLES[i] }
      },
      scales: {
        x: {
          type: 'linear',
          min: 1.0,
          max: 1.7,
          afterBuildTicks: s => { s.ticks = TIME_TICKS.map(v => ({ value: v })); },
          afterFit: s => { s.height = XAXIS_H; },
          border: borderStyle,
          grid: gridStyle,
          ticks: {
            autoSkip: false, maxRotation: 0, padding: 1,
            color: '#222', font: { family: FONT, size: 8.5 },
            callback: v => v.toFixed(1)
          }
        },
        y: {
          type: 'linear',
          min: -0.00043,
          max: 0.00043,
          afterBuildTicks: s => { s.ticks = AMP_TICKS.map(v => ({ value: v })); },
          afterFit: s => { s.width = YAXIS_W; },
          border: borderStyle,
          grid: gridStyle,
          ticks: {
            padding: 3,
            color: '#222', font: { family: FONT, size: 8.5 },
            callback: v => ampLabel(v)
          }
        }
      }
    },
    plugins: [framePlugin]
  });
});
</script>
</body>
</html>
